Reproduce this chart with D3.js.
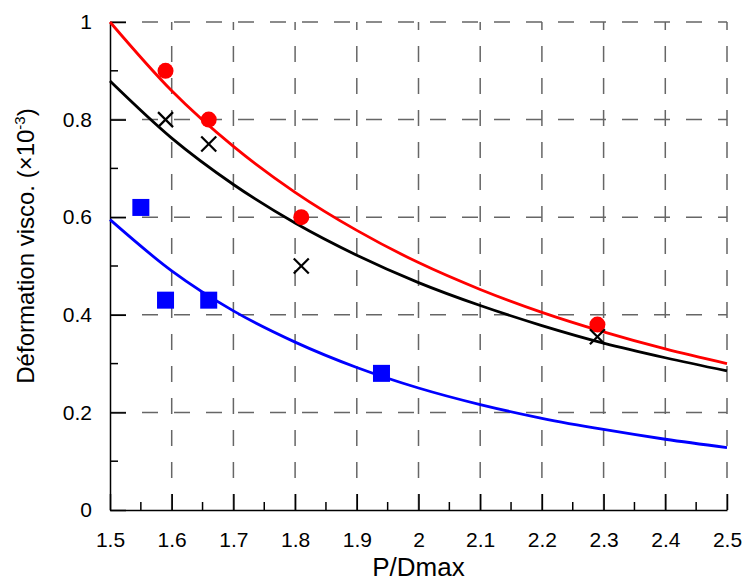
<!DOCTYPE html>
<html><head><meta charset="utf-8">
<script src="https://cdn.jsdelivr.net/npm/d3@7"></script>
<style>body{margin:0;background:#fff}svg{display:block}text{font-family:"Liberation Sans",Arial,sans-serif}</style>
</head><body>
<svg id="c" width="747" height="581"></svg>
<script>
// ---- data ----
const xTicks = [1.5,1.6,1.7,1.8,1.9,2,2.1,2.2,2.3,2.4,2.5];
const xTickLabels = ["1.5","1.6","1.7","1.8","1.9","2","2.1","2.2","2.3","2.4","2.5"];
const yTicks = [0,0.2,0.4,0.6,0.8,1];
const yTickLabels = ["0","0.2","0.4","0.6","0.8","1"];
const xMinor = [1.55,1.65,1.75,1.85,1.95,2.05,2.15,2.25,2.35,2.45];
const yMinor = [0.1,0.3,0.5,0.7,0.9];

const redPtsX = [1.59,1.66,1.81,2.29];
const redPtsY = [0.90,0.80,0.60,0.38];
const blackPtsX = [1.59,1.66,1.81,2.29];
const blackPtsY = [0.80,0.75,0.50,0.355];
const bluePtsX = [1.55,1.59,1.66,1.94];
const bluePtsY = [0.62,0.43,0.43,0.28];

const curveX = [1.5,1.6,1.7,1.8,1.9,2.0,2.1,2.2,2.3,2.4,2.5];
const redCurveY = [1.000,0.859,0.745,0.651,0.573,0.507,0.452,0.405,0.365,0.330,0.300];
const blackCurveY = [0.879,0.762,0.667,0.588,0.522,0.466,0.419,0.378,0.342,0.312,0.285];
const blueCurveY = [0.595,0.490,0.408,0.344,0.292,0.250,0.216,0.188,0.165,0.145,0.128];

// ---- drawing ----
const svg = d3.select("#c");
const x = d3.scaleLinear().domain([1.5,2.5]).range([110,727]);
const y = d3.scaleLinear().domain([0,1]).range([510,22]);

// grid
const grid = svg.append("g").attr("stroke","#666").attr("stroke-width",1.5).attr("stroke-dasharray","16,16");
grid.selectAll("line.v").data(xTicks.slice(1)).join("line")
  .attr("x1",d=>x(d)).attr("x2",d=>x(d)).attr("y1",y(0)).attr("y2",y(1));
grid.selectAll("line.h").data(yTicks.slice(1)).join("line").attr("class","h")
  .attr("x1",x(1.5)).attr("x2",x(2.5)).attr("y1",d=>y(d)).attr("y2",d=>y(d));

// axes
const xAxis = d3.axisBottom(x).tickValues(xTicks).tickFormat((d,i)=>xTickLabels[i]).tickSizeInner(-16).tickSizeOuter(0).tickPadding(22);
const gx = svg.append("g").attr("transform",`translate(0,${y(0)})`).call(xAxis);
gx.selectAll(".tick text").attr("font-size",21).attr("fill","#000").attr("font-family","Liberation Sans, Arial, sans-serif");
gx.selectAll(".tick line").attr("stroke","#000").attr("stroke-width",1.5);
gx.select(".domain").attr("stroke","#000").attr("stroke-width",1.5);
gx.selectAll("line.minor").data(xMinor).join("line").attr("class","minor")
  .attr("x1",d=>x(d)).attr("x2",d=>x(d)).attr("y1",0).attr("y2",-8).attr("stroke","#000").attr("stroke-width",1.5);

const yAxis = d3.axisLeft(y).tickValues(yTicks).tickFormat((d,i)=>yTickLabels[i]).tickSizeInner(-16).tickSizeOuter(0).tickPadding(18);
const gy = svg.append("g").attr("transform",`translate(${x(1.5)},0)`).call(yAxis);
gy.selectAll(".tick text").attr("font-size",21).attr("fill","#000").attr("font-family","Liberation Sans, Arial, sans-serif");
gy.selectAll(".tick line").attr("stroke","#000").attr("stroke-width",1.5);
gy.select(".domain").attr("stroke","#000").attr("stroke-width",1.5);
gy.selectAll("line.minor").data(yMinor).join("line").attr("class","minor")
  .attr("y1",d=>y(d)).attr("y2",d=>y(d)).attr("x1",0).attr("x2",8).attr("stroke","#000").attr("stroke-width",1.5);

// curves
const line = d3.line().x(d=>x(d[0])).y(d=>y(d[1])).curve(d3.curveMonotoneX);
const curves = [[redCurveY,"#ff0000"],[blackCurveY,"#000000"],[blueCurveY,"#0000ff"]];
curves.forEach(([ys,col])=>{
  svg.append("path").datum(curveX.map((v,i)=>[v,ys[i]])).attr("d",line)
    .attr("fill","none").attr("stroke",col).attr("stroke-width",2.8);
});

// markers
svg.append("g").selectAll("circle").data(redPtsX.map((v,i)=>[v,redPtsY[i]])).join("circle")
  .attr("cx",d=>x(d[0])).attr("cy",d=>y(d[1])).attr("r",8).attr("fill","#ff0000");
svg.append("g").selectAll("rect").data(bluePtsX.map((v,i)=>[v,bluePtsY[i]])).join("rect")
  .attr("x",d=>x(d[0])-8.5).attr("y",d=>y(d[1])-8.5).attr("width",17).attr("height",17).attr("fill","#0000ff");
const cr = svg.append("g").attr("stroke","#000").attr("stroke-width",2.2);
blackPtsX.forEach((v,i)=>{
  const cx = x(v), cy = y(blackPtsY[i]), s = 7.5;
  cr.append("line").attr("x1",cx-s).attr("y1",cy-s).attr("x2",cx+s).attr("y2",cy+s);
  cr.append("line").attr("x1",cx-s).attr("y1",cy+s).attr("x2",cx+s).attr("y2",cy-s);
});

// axis titles
svg.append("text").attr("x",x(2)).attr("y",576).attr("text-anchor","middle").attr("font-size",26).text("P/Dmax");
const yl = svg.append("text").attr("transform","translate(34,246) rotate(-90)").attr("text-anchor","middle").attr("font-size",24);
yl.append("tspan").text("Déformation visco. (×10");
yl.append("tspan").attr("font-size",15).attr("dy",-9).text("-3");
yl.append("tspan").attr("dy",9).text(")");
</script>
</body></html>
